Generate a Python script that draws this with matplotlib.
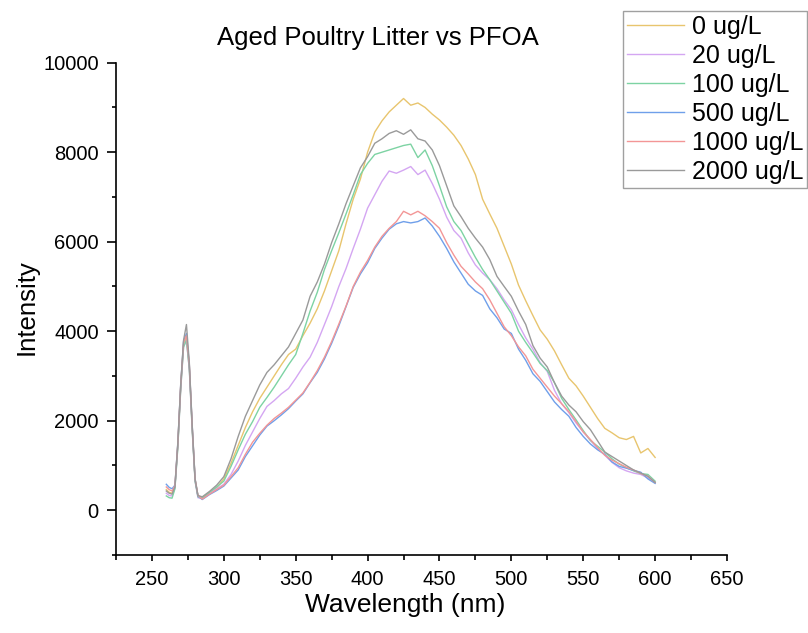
import matplotlib
matplotlib.use('Agg')
import matplotlib.pyplot as plt
from matplotlib.ticker import MultipleLocator

plt.rcParams['font.family'] = ['Liberation Sans', 'DejaVu Sans']

# wavelengths (nm)
wl = [260, 262, 264, 266, 268, 270, 272, 274, 276, 278, 280, 282,
      285, 290, 295, 300, 305, 310, 315, 320, 325, 330, 335, 340, 345, 350,
      355, 360, 365, 370, 375, 380, 385, 390, 395, 400, 405, 410, 415, 420,
      425, 430, 435, 440, 445, 450, 455, 460, 465, 470, 475, 480, 485, 490,
      495, 500, 505, 510, 515, 520, 525, 530, 535, 540, 545, 550, 555, 560,
      565, 570, 575, 580, 585, 590, 595, 600]

labels = ['0 ug/L', '20 ug/L', '100 ug/L', '500 ug/L', '1000 ug/L', '2000 ug/L']
colors = ['#E8C56E', '#D4A6F2', '#7DD3A3', '#6F9FEA', '#F39696', '#9A9A9A']

s0 = [460, 400, 380, 540, 1450, 2750, 3700, 3850, 3200, 1850, 680, 320,
      280, 400, 500, 700, 1050, 1450, 1850, 2200, 2500, 2750, 3000, 3250, 3480, 3600,
      3900, 4180, 4500, 4900, 5350, 5800, 6400, 6950, 7400, 8000, 8450, 8700, 8900, 9050,
      9200, 9050, 9100, 9000, 8850, 8720, 8560, 8380, 8150, 7850, 7500, 6950, 6620, 6300,
      5900, 5500, 5030, 4680, 4350, 4030, 3820, 3560, 3250, 2950, 2780, 2550, 2300, 2050,
      1830, 1730, 1620, 1580, 1650, 1280, 1380, 1180]

s20 = [380, 330, 320, 500, 1420, 2700, 3650, 3800, 3150, 1800, 650, 280,
       260, 380, 480, 580, 800, 1100, 1450, 1750, 2050, 2320, 2450, 2600, 2720, 2950,
       3200, 3420, 3750, 4150, 4550, 5000, 5400, 5850, 6280, 6750, 7050, 7350, 7580, 7530,
       7600, 7680, 7500, 7600, 7300, 6950, 6550, 6250, 6080, 5750, 5480, 5300, 5150, 4950,
       4700, 4480, 4150, 3850, 3600, 3300, 3100, 2680, 2380, 2180, 1950, 1750, 1560, 1380,
       1230, 1070, 950, 880, 830, 800, 720, 630]

s100 = [320, 280, 270, 480, 1400, 2700, 3650, 3800, 3150, 1800, 650, 300,
        270, 400, 520, 650, 980, 1350, 1700, 1980, 2300, 2520, 2750, 3000, 3250, 3480,
        3950, 4450, 4870, 5380, 5800, 6200, 6620, 7050, 7500, 7750, 7950, 8000, 8050, 8100,
        8150, 8180, 7880, 8050, 7700, 7250, 6780, 6450, 6250, 5950, 5650, 5380, 5150, 4900,
        4650, 4400, 4000, 3750, 3520, 3280, 3120, 2850, 2500, 2250, 2020, 1780, 1560, 1430,
        1300, 1150, 1030, 950, 880, 820, 800, 650]

s500 = [580, 510, 480, 560, 1500, 2800, 3780, 3950, 3250, 1900, 700, 320,
        240, 350, 440, 540, 720, 900, 1200, 1440, 1680, 1880, 2000, 2130, 2270, 2440,
        2600, 2850, 3080, 3380, 3730, 4120, 4550, 4980, 5280, 5530, 5850, 6080, 6280, 6400,
        6450, 6420, 6450, 6530, 6350, 6120, 5850, 5550, 5300, 5050, 4900, 4800, 4500, 4300,
        4050, 3950, 3600, 3350, 3050, 2880, 2650, 2420, 2250, 2100, 1850, 1650, 1480, 1350,
        1250, 1080, 980, 940, 890, 850, 700, 600]

s1000 = [520, 460, 430, 550, 1480, 2780, 3750, 3900, 3250, 1880, 700, 330,
         250, 360, 460, 560, 750, 950, 1250, 1520, 1720, 1900, 2050, 2170, 2300, 2460,
         2620, 2860, 3120, 3420, 3770, 4160, 4560, 5000, 5320, 5580, 5880, 6120, 6300, 6450,
         6680, 6600, 6680, 6580, 6450, 6300, 5980, 5700, 5450, 5280, 5100, 4950, 4700, 4400,
         4100, 3900, 3650, 3450, 3150, 2950, 2750, 2550, 2380, 2200, 1980, 1750, 1580, 1400,
         1230, 1120, 1040, 960, 900, 820, 760, 620]

s2000 = [430, 380, 360, 520, 1500, 2800, 3800, 4150, 3300, 1900, 700, 330,
         300, 420, 560, 750, 1150, 1650, 2100, 2450, 2800, 3080, 3250, 3450, 3650, 3950,
         4250, 4780, 5100, 5500, 5980, 6400, 6850, 7250, 7650, 7900, 8200, 8300, 8420, 8480,
         8400, 8500, 8300, 8250, 8050, 7700, 7250, 6800, 6560, 6300, 6080, 5880, 5600, 5225,
         5000, 4780, 4450, 4150, 3680, 3400, 3200, 2850, 2550, 2350, 2200, 1980, 1800, 1550,
         1300, 1200, 1100, 1000, 900, 830, 760, 620]

series = [s0, s20, s100, s500, s1000, s2000]

fig = plt.figure(figsize=(8.08, 6.33), dpi=100)
ax = fig.add_axes([116/808, 1-555/633, (727-116)/808, (555-62.7)/633])

lines = []
for ys, c, lab in zip(series, colors, labels):
    ln, = ax.plot(wl, ys, color=c, lw=1.0, label=lab)
    lines.append(ln)

ax.set_xlim(225, 650)
ax.set_ylim(-1000, 10000)
ax.xaxis.set_major_locator(MultipleLocator(50))
ax.xaxis.set_minor_locator(MultipleLocator(25))
ax.yaxis.set_minor_locator(MultipleLocator(1000))
ax.set_yticks([0, 2000, 4000, 6000, 8000, 10000])

for side in ['top', 'right']:
    ax.spines[side].set_visible(False)
for side in ['left', 'bottom']:
    ax.spines[side].set_linewidth(1.2)

ax.tick_params(axis='x', which='major', direction='out', length=4, width=1.2, labelsize=14.5, pad=7)
ax.tick_params(axis='x', which='minor', direction='out', length=3.5, width=1.2)
ax.tick_params(axis='y', which='major', direction='out', length=6.5, width=1.2, labelsize=14.5, pad=6)
ax.tick_params(axis='y', which='minor', direction='out', length=3, width=1.2)

fig.text(378/808, 1-38/633, 'Aged Poultry Litter vs PFOA', ha='center', va='center', fontsize=18.5)
fig.text(405/808, 1-605/633, 'Wavelength (nm)', ha='center', va='center', fontsize=19)
fig.text(27/808, 1-307/633, 'Intensity', ha='center', va='center', fontsize=18.5, rotation=90)

leg = fig.legend(handles=lines, loc='upper right', bbox_to_anchor=(807/808, 1-11/633),
                 fontsize=18, frameon=True, fancybox=False, borderpad=0.15,
                 labelspacing=0.2, handlelength=2.3, handletextpad=0.3, borderaxespad=0)
leg.get_frame().set_edgecolor('#888888')
leg.get_frame().set_linewidth(1.0)

fig.savefig('out.png', dpi=100)
